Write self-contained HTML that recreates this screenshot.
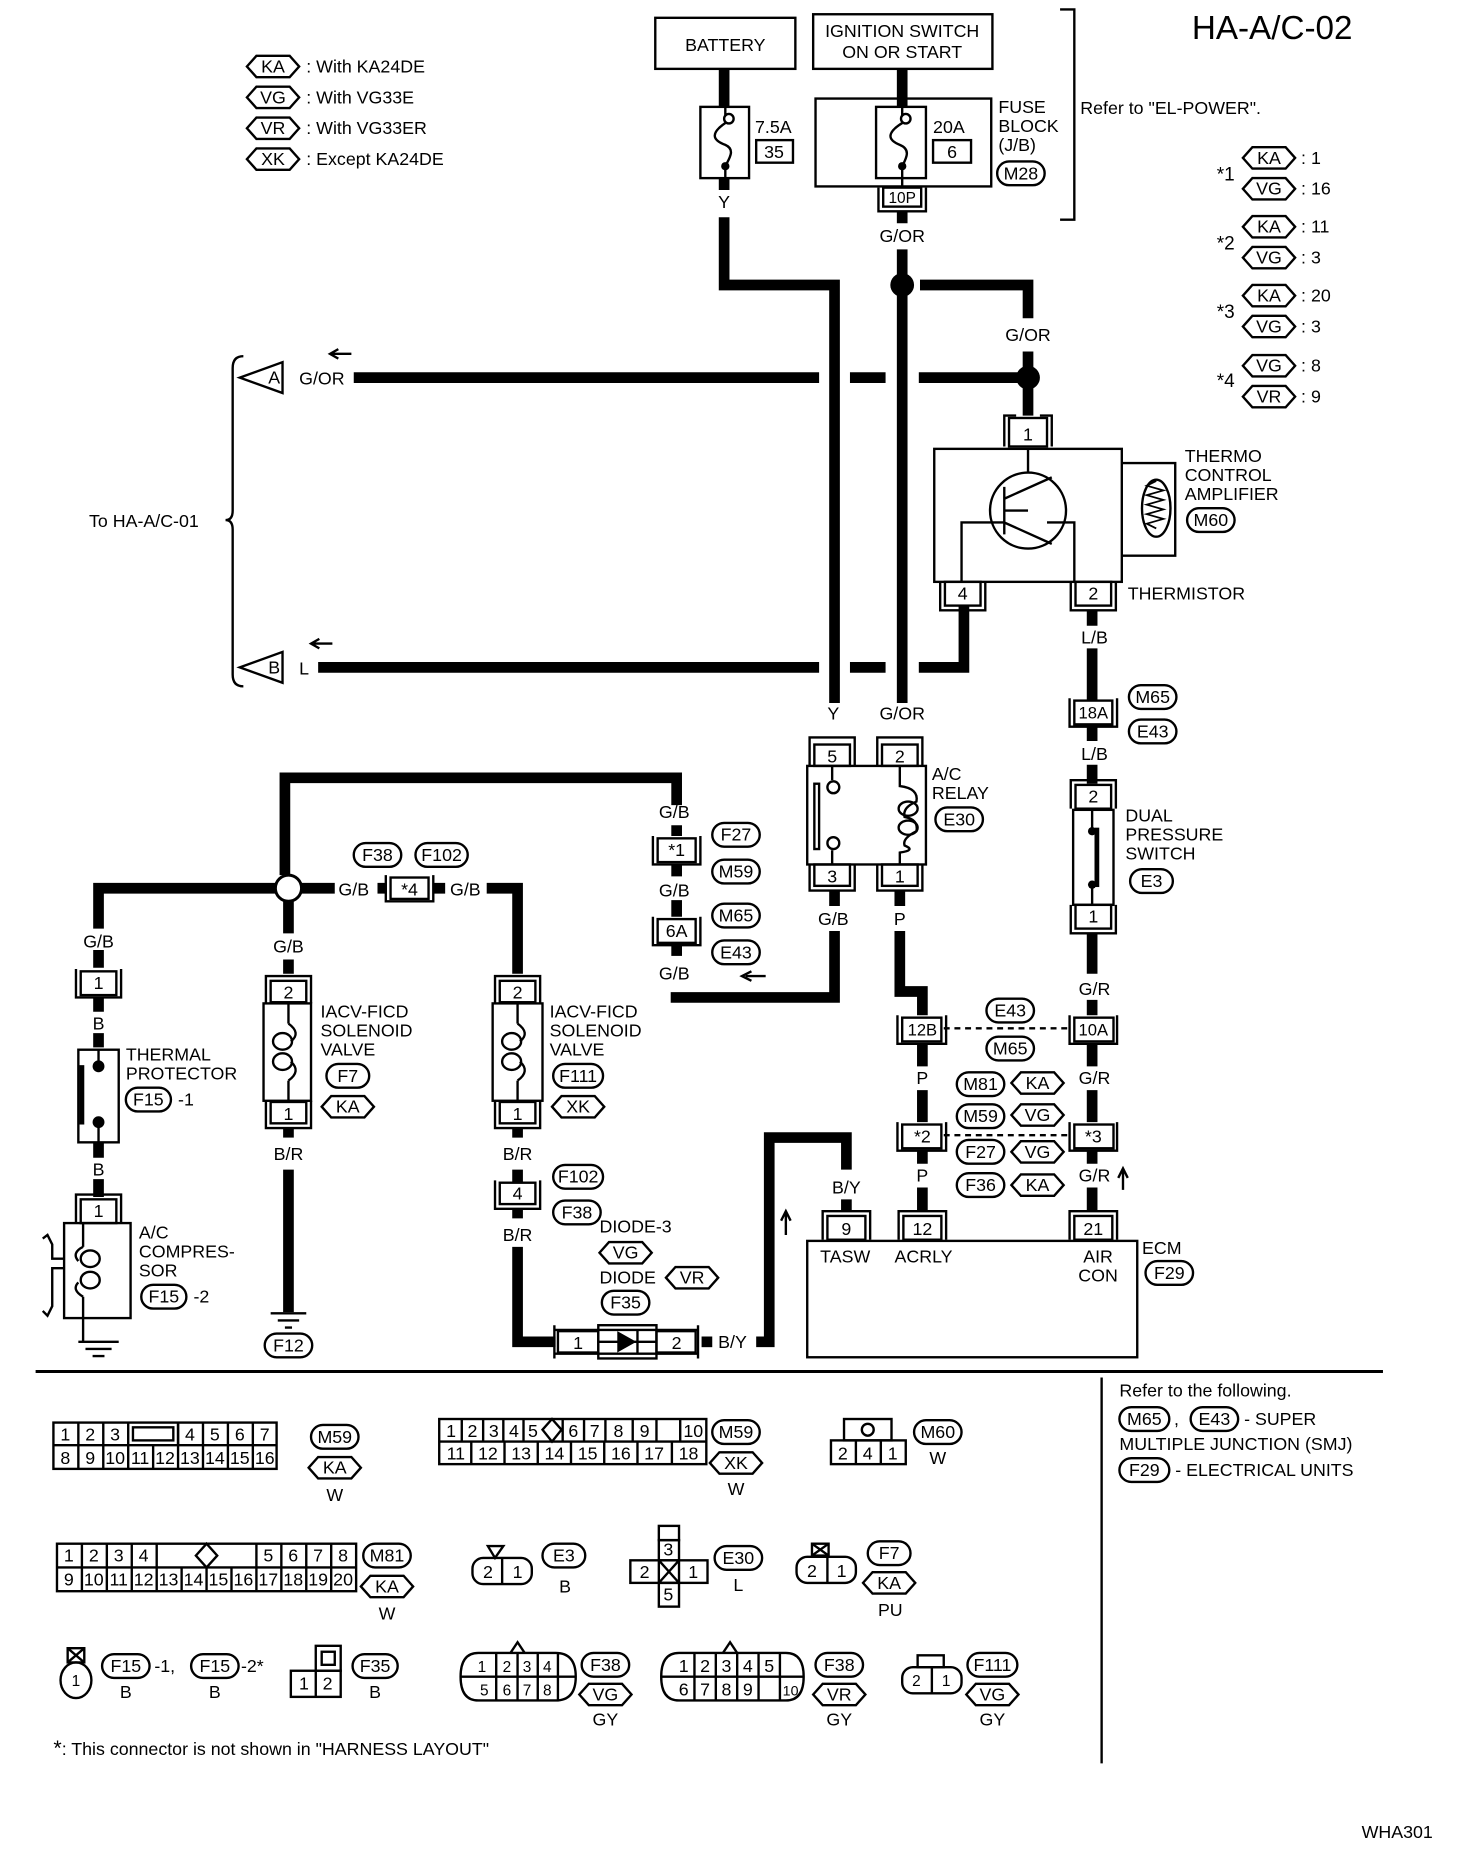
<!DOCTYPE html>
<html><head><meta charset="utf-8"><style>
html,body{margin:0;padding:0;background:#fff;}
svg{display:block;}
text{font-family:"Liberation Sans",sans-serif;font-size:15px;fill:#000;}
.c{text-anchor:middle;}
.s{fill:none;stroke:#000;stroke-width:2;}
.w{fill:#fff;stroke:#000;stroke-width:2;}
.wire{fill:none;stroke:#000;stroke-width:9;}
.th{fill:none;stroke:#000;stroke-width:1.5;}
</style></head><body>
<svg width="1472" height="1856" viewBox="0 0 1240 1563" preserveAspectRatio="none" xmlns="http://www.w3.org/2000/svg">
<rect width="1240" height="1563" fill="#fff"/>
<text x="1004" y="33" style="font-size:28px">HA-A/C-02</text>

<!-- legend -->
<g>
<polygon class="w" points="208,56 216,47 244,47 252,56 244,65 216,65"/><text x="230" y="61" class="c">KA</text><text x="258" y="61">: With KA24DE</text>
<polygon class="w" points="208,82 216,73 244,73 252,82 244,91 216,91"/><text x="230" y="87" class="c">VG</text><text x="258" y="87">: With VG33E</text>
<polygon class="w" points="208,108 216,99 244,99 252,108 244,117 216,117"/><text x="230" y="113" class="c">VR</text><text x="258" y="113">: With VG33ER</text>
<polygon class="w" points="208,134 216,125 244,125 252,134 244,143 216,143"/><text x="230" y="139" class="c">XK</text><text x="258" y="139">: Except KA24DE</text>
</g>

<!-- right star tables -->
<g>
<text x="1025" y="152" style="font-size:16px">*1</text>
<polygon class="w" points="1047,133 1055,124 1083,124 1091,133 1083,142 1055,142"/><text x="1069" y="138" class="c">KA</text><text x="1096" y="138">: 1</text>
<polygon class="w" points="1047,159 1055,150 1083,150 1091,159 1083,168 1055,168"/><text x="1069" y="164" class="c">VG</text><text x="1096" y="164">: 16</text>
<text x="1025" y="210" style="font-size:16px">*2</text>
<polygon class="w" points="1047,191 1055,182 1083,182 1091,191 1083,200 1055,200"/><text x="1069" y="196" class="c">KA</text><text x="1096" y="196">: 11</text>
<polygon class="w" points="1047,217 1055,208 1083,208 1091,217 1083,226 1055,226"/><text x="1069" y="222" class="c">VG</text><text x="1096" y="222">: 3</text>
<text x="1025" y="268" style="font-size:16px">*3</text>
<polygon class="w" points="1047,249 1055,240 1083,240 1091,249 1083,258 1055,258"/><text x="1069" y="254" class="c">KA</text><text x="1096" y="254">: 20</text>
<polygon class="w" points="1047,275 1055,266 1083,266 1091,275 1083,284 1055,284"/><text x="1069" y="280" class="c">VG</text><text x="1096" y="280">: 3</text>
<text x="1025" y="326" style="font-size:16px">*4</text>
<polygon class="w" points="1047,308 1055,299 1083,299 1091,308 1083,317 1055,317"/><text x="1069" y="313" class="c">VG</text><text x="1096" y="313">: 8</text>
<polygon class="w" points="1047,334 1055,325 1083,325 1091,334 1083,343 1055,343"/><text x="1069" y="339" class="c">VR</text><text x="1096" y="339">: 9</text>
</g>

<!-- top boxes -->
<rect class="s" x="552" y="15" width="118" height="43"/><text x="611" y="43" class="c">BATTERY</text>
<rect class="s" x="685" y="12" width="151" height="46"/><text x="760" y="31" class="c">IGNITION SWITCH</text><text x="760" y="49" class="c">ON OR START</text>
<path class="s" d="M893,8 H905 V185 H893"/>
<text x="910" y="96">Refer to "EL-POWER".</text>

<!-- fuses -->
<path class="wire" d="M610,58 V90"/>
<rect class="s" x="590" y="90" width="41" height="60"/>
<path class="s" d="M611,90 V97 M611,140 V150"/>
<circle cx="614" cy="100" r="4" class="w"/><circle cx="611" cy="140" r="3.5"/>
<path class="s" d="M612,103 C598,112 600,118 611,122 C620,126 614,134 611,140"/>
<path class="wire" d="M610,150 V160"/>
<text x="636" y="112">7.5A</text><rect class="s" x="637" y="118" width="31" height="19"/><text x="652" y="133" class="c">35</text>
<path class="wire" d="M760,58 V90"/>
<rect class="s" x="687" y="83" width="148" height="74"/>
<rect class="s" x="738" y="90" width="42" height="60"/>
<path class="s" d="M760,90 V97 M760,140 V157"/>
<circle cx="763" cy="100" r="4" class="w"/><circle cx="760" cy="140" r="3.5"/>
<path class="s" d="M761,103 C746,112 748,118 758,122 C768,126 763,134 760,140"/>
<text x="786" y="112">20A</text><rect class="s" x="786" y="118" width="32" height="19"/><text x="802" y="133" class="c">6</text>
<text x="841" y="95">FUSE</text><text x="841" y="111">BLOCK</text><text x="841" y="127">(J/B)</text>
<rect class="w" x="840" y="136" width="40" height="20" rx="10"/><text x="860" y="151" class="c">M28</text>
<rect class="s" x="744" y="158" width="32" height="16"/><path class="s" d="M740,158 V178 H780 V158"/><text x="760" y="171" class="c" style="font-size:13px">10P</text>
<text x="610" y="175" class="c">Y</text>
<text x="760" y="204" class="c">G/OR</text>

<!-- main wires -->
<path class="wire" d="M610,183 V240 H703 V592"/>
<path class="wire" d="M760,178 V188 M760,210 V592"/>
<circle cx="760" cy="240" r="10"/>
<path class="wire" d="M775,240 H866 V268"/>
<text x="866" y="287" class="c">G/OR</text>
<path class="wire" d="M866,296 V350"/>
<circle cx="866" cy="318" r="10"/>
<path class="wire" d="M298,318 H690 M716,318 H746 M774,318 H866"/>
<path class="wire" d="M268,562 H690 M716,562 H746 M774,562 H812 V510"/>
<!-- connectors A B -->
<polygon class="w" points="202,318 238,305 238,331"/><text x="231" y="323" class="c">A</text><text x="252" y="324">G/OR</text>
<path class="s" d="M296,298 H280 M285,294 L278,298 L285,302"/>
<polygon class="w" points="202,562 238,549 238,575"/><text x="231" y="567" class="c">B</text><text x="252" y="568">L</text>
<path class="s" d="M280,542 H264 M269,538 L262,542 L269,546"/>
<path class="s" d="M205,300 Q196,300 196,310 V430 Q196,438 190,438 Q196,438 196,446 V568 Q196,578 205,578"/>
<text x="75" y="444">To HA-A/C-01</text>

<!-- thermo amp -->
<rect class="s" x="850" y="352" width="32" height="24"/><path class="s" d="M846,376 V350 H856 M876,350 H886 V376"/><text x="866" y="371" class="c">1</text>
<rect class="s" x="787" y="378" width="158" height="112"/>
<circle cx="866" cy="430" r="32" class="s"/>
<path class="s" d="M866,378 V398 M846,410 V450 M846,420 L886,402 M846,440 L886,458"/>
<path class="s" d="M810,490 V440 H846 M846,430 H866 M882,440 H905 V490"/>
<path class="s" d="M945,390 H990 V468 H945"/>
<ellipse cx="974" cy="428" rx="12" ry="24" class="s"/>
<path class="th" d="M974,405 l-8,4 l14,4 l-14,4 l14,4 l-14,4 l14,4 l-14,4 l14,4 l-14,4 l8,4"/>
<text x="998" y="389">THERMO</text><text x="998" y="405">CONTROL</text><text x="998" y="421">AMPLIFIER</text>
<rect class="w" x="1000" y="428" width="40" height="20" rx="10"/><text x="1020" y="443" class="c">M60</text>
<rect class="s" x="796" y="490" width="30" height="20"/><path class="s" d="M792,490 V514 H830 V490"/><text x="811" y="505" class="c">4</text>
<rect class="s" x="906" y="490" width="30" height="20"/><path class="s" d="M902,490 V514 H940 V490"/><text x="921" y="505" class="c">2</text>
<text x="950" y="505">THERMISTOR</text>
<text x="812" y="542" class="c">L</text>

<!-- L/B path -->
<path class="wire" d="M920,514 V527 M920,546 V590 M920,610 V624 M920,644 V660"/>
<text x="922" y="542" class="c">L/B</text>
<rect class="s" x="905" y="590" width="32" height="20"/><path class="s" d="M901,588 V612 H941 V588"/><text x="921" y="605" class="c" style="font-size:14px">18A</text>
<rect class="w" x="951" y="577" width="40" height="20" rx="10"/><text x="971" y="592" class="c">M65</text>
<rect class="w" x="951" y="606" width="40" height="20" rx="10"/><text x="971" y="621" class="c">E43</text>
<text x="922" y="640" class="c">L/B</text>
<!-- dual pressure -->
<rect class="s" x="906" y="661" width="30" height="20"/><path class="s" d="M902,681 V657 H940 V681"/><text x="921" y="676" class="c">2</text>
<rect class="s" x="904" y="682" width="34" height="80"/>
<path class="s" d="M920,682 V700 M920,745 V762"/><circle cx="920" cy="700" r="3.5"/><circle cx="920" cy="745" r="3.5"/>
<rect x="922" y="697" width="4" height="50"/>
<text x="948" y="692">DUAL</text><text x="948" y="708">PRESSURE</text><text x="948" y="724">SWITCH</text>
<rect class="w" x="952" y="732" width="36" height="20" rx="10"/><text x="970" y="747" class="c">E3</text>
<rect class="s" x="906" y="762" width="30" height="20"/><path class="s" d="M902,762 V786 H940 V762"/><text x="921" y="777" class="c">1</text>
<path class="wire" d="M920,786 V820 M920,842 V855"/>
<text x="922" y="838" class="c">G/R</text>
<rect class="s" x="905" y="857" width="33" height="20"/><path class="s" d="M901,855 V879 H941 V855"/><text x="921" y="872" class="c" style="font-size:14px">10A</text>
<path class="wire" d="M920,879 V898 M920,918 V945"/>
<text x="922" y="913" class="c">G/R</text>
<rect class="s" x="905" y="947" width="33" height="20"/><path class="s" d="M901,945 V969 H941 V945"/><text x="921" y="962" class="c">*3</text>
<path class="wire" d="M920,969 V980 M920,1000 V1020"/>
<text x="922" y="995" class="c">G/R</text>
<path class="s" d="M946,1002 V986 M942,992 L946,984 L950,992"/>
<path d="M795,866 H903" stroke="#000" stroke-width="2" stroke-dasharray="5,4" fill="none"/>
<path d="M795,956 H903" stroke="#000" stroke-width="2" stroke-dasharray="5,4" fill="none"/>
<rect class="w" x="831" y="841" width="40" height="20" rx="10"/><text x="851" y="856" class="c">E43</text>
<rect class="w" x="831" y="873" width="40" height="20" rx="10"/><text x="851" y="888" class="c">M65</text>

<!-- A/C relay -->
<text x="702" y="606" class="c">Y</text><text x="760" y="606" class="c">G/OR</text>
<rect class="s" x="686" y="627" width="30" height="18"/><path class="s" d="M682,645 V621 H720 V645"/><text x="701" y="642" class="c">5</text>
<rect class="s" x="743" y="627" width="30" height="18"/><path class="s" d="M739,645 V621 H777 V645"/><text x="758" y="642" class="c">2</text>
<rect class="s" x="680" y="645" width="100" height="83"/>
<rect class="s" x="686" y="660" width="4" height="55"/>
<path class="s" d="M701,645 V657 M701,716 V728"/><circle cx="702" cy="663" r="5" class="w"/><circle cx="702" cy="710" r="5" class="w"/>
<path class="s" d="M758,645 V662 Q774,664 772,675 Q760,680 762,688 Q774,690 772,700 Q760,706 762,712 Q772,716 758,718 V728"/>
<ellipse cx="765" cy="681" rx="8" ry="6" class="s"/><ellipse cx="765" cy="697" rx="8" ry="6" class="s"/>
<text x="785" y="657">A/C</text><text x="785" y="673">RELAY</text>
<rect class="w" x="788" y="680" width="40" height="20" rx="10"/><text x="808" y="695" class="c">E30</text>
<rect class="s" x="686" y="728" width="30" height="18"/><path class="s" d="M682,728 V750 H720 V728"/><text x="701" y="743" class="c">3</text>
<rect class="s" x="743" y="728" width="30" height="18"/><path class="s" d="M739,728 V750 H777 V728"/><text x="758" y="743" class="c">1</text>
<text x="702" y="779" class="c">G/B</text><text x="758" y="779" class="c">P</text>
<path class="wire" d="M703,750 V763 M703,784 V840 H565"/>
<path class="s" d="M645,822 H628 M633,818 L625,822 L633,826"/>
<text x="568" y="825" class="c">G/B</text>
<path class="wire" d="M758,750 V763 M758,784 V835 H777 V855"/>
<rect class="s" x="760" y="857" width="33" height="20"/><path class="s" d="M756,855 V879 H797 V855"/><text x="777" y="872" class="c" style="font-size:14px">12B</text>
<path class="wire" d="M777,879 V898 M777,918 V945"/>
<text x="777" y="913" class="c">P</text>
<rect class="s" x="760" y="947" width="33" height="20"/><path class="s" d="M756,945 V969 H797 V945"/><text x="777" y="962" class="c">*2</text>
<path class="wire" d="M777,969 V980 M777,1000 V1020"/>
<text x="777" y="995" class="c">P</text>
<rect class="w" x="806" y="903" width="40" height="20" rx="10"/><text x="826" y="918" class="c">M81</text>
<polygon class="w" points="852,912 860,903 888,903 896,912 888,921 860,921"/><text x="874" y="917" class="c">KA</text>
<rect class="w" x="806" y="930" width="40" height="20" rx="10"/><text x="826" y="945" class="c">M59</text>
<polygon class="w" points="852,939 860,930 888,930 896,939 888,948 860,948"/><text x="874" y="944" class="c">VG</text>
<rect class="w" x="806" y="960" width="40" height="20" rx="10"/><text x="826" y="975" class="c">F27</text>
<polygon class="w" points="852,970 860,961 888,961 896,970 888,979 860,979"/><text x="874" y="975" class="c">VG</text>
<rect class="w" x="806" y="988" width="40" height="20" rx="10"/><text x="826" y="1003" class="c">F36</text>
<polygon class="w" points="852,998 860,989 888,989 896,998 888,1007 860,1007"/><text x="874" y="1003" class="c">KA</text>

<!-- ECM -->
<rect class="s" x="680" y="1045" width="278" height="98"/>
<rect class="s" x="697" y="1024" width="32" height="20"/><path class="s" d="M693,1044 V1020 H733 V1044"/><text x="713" y="1040" class="c">9</text>
<rect class="s" x="761" y="1024" width="32" height="20"/><path class="s" d="M757,1044 V1020 H797 V1044"/><text x="777" y="1040" class="c">12</text>
<rect class="s" x="905" y="1024" width="32" height="20"/><path class="s" d="M901,1044 V1020 H941 V1044"/><text x="921" y="1040" class="c">21</text>
<text x="712" y="1063" class="c">TASW</text><text x="778" y="1063" class="c">ACRLY</text>
<text x="925" y="1063" class="c">AIR</text><text x="925" y="1079" class="c">CON</text>
<text x="962" y="1056">ECM</text>
<rect class="w" x="965" y="1062" width="40" height="20" rx="10"/><text x="985" y="1077" class="c">F29</text>
<text x="713" y="1005" class="c">B/Y</text>
<path class="wire" d="M713,1020 V1010 M713,985 V958 H648 V1130 H637"/>
<path class="s" d="M662,1040 V1022 M658,1028 L662,1020 L666,1028"/>
<text x="605" y="1135">B/Y</text>

<!-- G/B left wiring -->
<path class="wire" d="M570,678 V655 H240 V737 M243,759 V786 M243,808 V820"/>
<circle cx="243" cy="748" r="11" class="w" style="stroke-width:2.5"/>
<path class="wire" d="M232,748 H83 V782 M83,800 V815"/>
<path class="wire" d="M254,748 H282 M318,748 H325 M365,748 H375 M410,748 H436 V820"/>
<text x="298" y="754" class="c">G/B</text><text x="392" y="754" class="c">G/B</text>
<rect class="s" x="329" y="739" width="32" height="18"/><path class="s" d="M325,737 V759 H365 V737"/><text x="345" y="754" class="c">*4</text>
<rect class="w" x="298" y="710" width="40" height="20" rx="10"/><text x="318" y="725" class="c">F38</text>
<rect class="w" x="350" y="710" width="44" height="20" rx="10"/><text x="372" y="725" class="c">F102</text>
<text x="568" y="689" class="c">G/B</text>
<rect class="s" x="554" y="706" width="32" height="20"/><path class="s" d="M550,704 V728 H590 V704"/><text x="570" y="721" class="c">*1</text>
<path class="wire" d="M570,695 V704 M570,728 V738 M570,758 V772"/>
<text x="568" y="755" class="c">G/B</text>
<rect class="s" x="554" y="774" width="32" height="20"/><path class="s" d="M550,772 V796 H590 V772"/><text x="570" y="789" class="c">6A</text>
<path class="wire" d="M570,796 V805"/>
<rect class="w" x="600" y="693" width="40" height="20" rx="10"/><text x="620" y="708" class="c">F27</text>
<rect class="w" x="600" y="724" width="40" height="20" rx="10"/><text x="620" y="739" class="c">M59</text>
<rect class="w" x="600" y="761" width="40" height="20" rx="10"/><text x="620" y="776" class="c">M65</text>
<rect class="w" x="600" y="792" width="40" height="20" rx="10"/><text x="620" y="807" class="c">E43</text>

<!-- thermal protector -->
<text x="83" y="798" class="c">G/B</text>
<rect class="s" x="68" y="818" width="30" height="20"/><path class="s" d="M64,816 V840 H102 V816"/><text x="83" y="833" class="c">1</text>
<path class="wire" d="M83,840 V852 M83,870 V882"/>
<text x="83" y="867" class="c">B</text>
<rect class="s" x="66" y="884" width="34" height="78"/>
<rect x="67" y="897" width="4" height="50"/>
<circle cx="83" cy="898" r="5"/><circle cx="83" cy="945" r="5"/>
<path class="s" d="M83,884 V898 M83,945 V962"/>
<path class="wire" d="M83,962 V975 M83,993 V1008"/>
<text x="83" y="990" class="c">B</text>
<text x="106" y="893">THERMAL</text><text x="106" y="909">PROTECTOR</text>
<rect class="w" x="106" y="916" width="38" height="20" rx="10"/><text x="125" y="931" class="c">F15</text><text x="150" y="931">-1</text>
<rect class="s" x="68" y="1010" width="30" height="20"/><path class="s" d="M64,1030 V1006 H102 V1030"/><text x="83" y="1025" class="c">1</text>
<rect class="s" x="54" y="1030" width="56" height="80"/>
<path class="s" d="M70,1030 V1050 M70,1092 V1130"/>
<ellipse cx="76" cy="1060" rx="8" ry="7" class="s"/><ellipse cx="76" cy="1078" rx="8" ry="7" class="s"/>
<path class="s" d="M70,1050 Q60,1055 66,1062 M70,1092 Q60,1086 66,1080"/>
<path class="s" d="M36,1043 L40,1040 L44,1048 V1060 H54 M54,1068 H44 V1100 L40,1108 L36,1104"/>
<path class="s" d="M66,1130 H100 M72,1136 H94 M78,1142 H88"/>
<text x="117" y="1043">A/C</text><text x="117" y="1059">COMPRES-</text><text x="117" y="1075">SOR</text>
<rect class="w" x="119" y="1082" width="38" height="20" rx="10"/><text x="138" y="1097" class="c">F15</text><text x="163" y="1097">-2</text>

<!-- IACV 1 -->
<text x="243" y="802" class="c">G/B</text>
<rect class="s" x="228" y="826" width="30" height="18"/><path class="s" d="M224,845 V822 H262 V845"/><text x="243" y="841" class="c">2</text>
<rect class="s" x="222" y="845" width="40" height="82"/>
<path class="s" d="M243,845 V862 M243,910 V927"/>
<ellipse cx="238" cy="877" rx="8" ry="7" class="s"/><ellipse cx="238" cy="894" rx="8" ry="7" class="s"/>
<path class="s" d="M243,862 Q254,870 245,877 M243,910 Q254,902 245,894"/>
<rect class="s" x="228" y="928" width="30" height="18"/><path class="s" d="M224,927 V950 H262 V927"/><text x="243" y="943" class="c">1</text>
<text x="270" y="857">IACV-FICD</text><text x="270" y="873">SOLENOID</text><text x="270" y="889">VALVE</text>
<rect class="w" x="275" y="896" width="36" height="20" rx="10"/><text x="293" y="911" class="c">F7</text>
<polygon class="w" points="271,932 279,923 307,923 315,932 307,941 279,941"/><text x="293" y="937" class="c">KA</text>
<path class="wire" d="M243,950 V958"/><text x="243" y="977" class="c">B/R</text>
<path class="wire" d="M243,985 V1105"/>
<path class="s" d="M228,1106 H258 M234,1112 H252 M240,1118 H246"/>
<rect class="w" x="223" y="1123" width="40" height="20" rx="10"/><text x="243" y="1138" class="c">F12</text>

<!-- IACV 2 -->
<rect class="s" x="421" y="826" width="30" height="18"/><path class="s" d="M417,845 V822 H455 V845"/><text x="436" y="841" class="c">2</text>
<rect class="s" x="415" y="845" width="42" height="82"/>
<path class="s" d="M436,845 V862 M436,910 V927"/>
<ellipse cx="431" cy="877" rx="8" ry="7" class="s"/><ellipse cx="431" cy="894" rx="8" ry="7" class="s"/>
<path class="s" d="M436,862 Q447,870 438,877 M436,910 Q447,902 438,894"/>
<rect class="s" x="421" y="928" width="30" height="18"/><path class="s" d="M417,927 V950 H455 V927"/><text x="436" y="943" class="c">1</text>
<text x="463" y="857">IACV-FICD</text><text x="463" y="873">SOLENOID</text><text x="463" y="889">VALVE</text>
<rect class="w" x="466" y="896" width="42" height="20" rx="10"/><text x="487" y="911" class="c">F111</text>
<polygon class="w" points="465,932 473,923 501,923 509,932 501,941 473,941"/><text x="487" y="937" class="c">XK</text>
<path class="wire" d="M436,950 V958 M436,985 V996"/><text x="436" y="977" class="c">B/R</text>
<rect class="s" x="421" y="996" width="30" height="18"/><path class="s" d="M417,994 V1018 H455 V994"/><text x="436" y="1010" class="c">4</text>
<path class="wire" d="M436,1018 V1026 M436,1050 V1130 H468"/><text x="436" y="1045" class="c">B/R</text>
<rect class="w" x="466" y="981" width="42" height="20" rx="10"/><text x="487" y="996" class="c">F102</text>
<rect class="w" x="466" y="1011" width="40" height="20" rx="10"/><text x="486" y="1026" class="c">F38</text>
<text x="505" y="1038">DIODE-3</text>
<polygon class="w" points="505,1055 513,1046 541,1046 549,1055 541,1064 513,1064"/><text x="527" y="1060" class="c">VG</text>
<text x="505" y="1081">DIODE</text>
<polygon class="w" points="561,1076 569,1067 597,1067 605,1076 597,1085 569,1085"/><text x="583" y="1081" class="c">VR</text>
<rect class="w" x="507" y="1087" width="40" height="20" rx="10"/><text x="527" y="1102" class="c">F35</text>
<path class="s" d="M467,1120 H588 V1140 H467 Z M467,1116 V1144 M588,1116 V1144"/>
<rect class="s" x="470" y="1121" width="34" height="18"/><text x="487" y="1136" class="c">1</text>
<rect class="s" x="553" y="1121" width="33" height="18"/><text x="570" y="1136" class="c">2</text>
<rect class="s" x="504" y="1116" width="49" height="28"/>
<path class="s" d="M504,1130 H553"/><polygon points="520,1121 520,1139 536,1130"/><path class="s" d="M537,1120 V1140"/>
<path class="wire" d="M591,1130 H600"/>

<!-- separators -->
<path d="M30,1155 H1165" stroke="#000" stroke-width="2.5"/>
<path d="M928,1160 V1485" stroke="#000" stroke-width="2"/>
<text x="943" y="1176">Refer to the following.</text>
<rect class="w" x="943" y="1185" width="42" height="20" rx="10"/><text x="964" y="1200" class="c">M65</text>
<text x="989" y="1200">,</text>
<rect class="w" x="1003" y="1185" width="40" height="20" rx="10"/><text x="1023" y="1200" class="c">E43</text>
<text x="1048" y="1200">- SUPER</text>
<text x="943" y="1221">MULTIPLE JUNCTION (SMJ)</text>
<rect class="w" x="943" y="1228" width="42" height="20" rx="10"/><text x="964" y="1243" class="c">F29</text>
<text x="990" y="1243">- ELECTRICAL UNITS</text>

<!-- bottom connectors -->
<g style="font-size:13px">
<rect class="s" x="45" y="1198" width="188" height="39"/><path class="s" d="M45,1217 H233 M66,1198 V1237 M87,1198 V1237 M108,1217 V1237 M129,1217 V1237 M150,1198 V1237 M171,1198 V1237 M192,1198 V1237 M213,1198 V1237"/>
<path class="s" d="M108,1198 V1217 M150,1198 V1217"/><rect class="s" x="112" y="1202" width="34" height="11"/>
<text x="55" y="1213" class="c">1</text><text x="76" y="1213" class="c">2</text><text x="97" y="1213" class="c">3</text><text x="160" y="1213" class="c">4</text><text x="181" y="1213" class="c">5</text><text x="202" y="1213" class="c">6</text><text x="223" y="1213" class="c">7</text>
<text x="55" y="1233" class="c">8</text><text x="76" y="1233" class="c">9</text><text x="97" y="1233" class="c">10</text><text x="118" y="1233" class="c">11</text><text x="139" y="1233" class="c">12</text><text x="160" y="1233" class="c">13</text><text x="181" y="1233" class="c">14</text><text x="202" y="1233" class="c">15</text><text x="223" y="1233" class="c">16</text>
</g>
<rect class="w" x="262" y="1200" width="40" height="20" rx="10"/><text x="282" y="1215" class="c">M59</text>
<polygon class="w" points="260,1236 268,1227 296,1227 304,1236 296,1245 268,1245"/><text x="282" y="1241" class="c">KA</text>
<text x="282" y="1264" class="c">W</text>

<g style="font-size:13px">
<rect class="s" x="370" y="1195" width="225" height="38"/><path class="s" d="M370,1214 H595"/>
<path class="s" d="M389,1195 V1214 M407,1195 V1214 M424,1195 V1214 M441,1195 V1214 M474,1195 V1214 M492,1195 V1214 M510,1195 V1214 M533,1195 V1214 M553,1195 V1214 M573,1195 V1214"/>
<polygon class="s" points="465,1195 473,1204 465,1214 457,1204"/>
<path class="s" d="M397,1214 V1233 M425,1214 V1233 M453,1214 V1233 M481,1214 V1233 M509,1214 V1233 M537,1214 V1233 M566,1214 V1233"/>
<text x="380" y="1210" class="c">1</text><text x="398" y="1210" class="c">2</text><text x="416" y="1210" class="c">3</text><text x="433" y="1210" class="c">4</text><text x="449" y="1210" class="c">5</text><text x="483" y="1210" class="c">6</text><text x="501" y="1210" class="c">7</text><text x="521" y="1210" class="c">8</text><text x="543" y="1210" class="c">9</text><text x="584" y="1210" class="c">10</text>
<text x="384" y="1229" class="c">11</text><text x="411" y="1229" class="c">12</text><text x="439" y="1229" class="c">13</text><text x="467" y="1229" class="c">14</text><text x="495" y="1229" class="c">15</text><text x="523" y="1229" class="c">16</text><text x="551" y="1229" class="c">17</text><text x="580" y="1229" class="c">18</text>
</g>
<rect class="w" x="600" y="1196" width="40" height="20" rx="10"/><text x="620" y="1211" class="c">M59</text>
<polygon class="w" points="598,1232 606,1223 634,1223 642,1232 634,1241 606,1241"/><text x="620" y="1237" class="c">XK</text>
<text x="620" y="1259" class="c">W</text>

<rect class="s" x="711" y="1195" width="40" height="18"/><circle cx="731" cy="1204" r="5" class="s"/>
<rect class="s" x="700" y="1213" width="63" height="20"/><path class="s" d="M721,1213 V1233 M742,1213 V1233"/>
<text x="710" y="1229" class="c">2</text><text x="731" y="1229" class="c">4</text><text x="752" y="1229" class="c">1</text>
<rect class="w" x="770" y="1196" width="40" height="20" rx="10"/><text x="790" y="1211" class="c">M60</text>
<text x="790" y="1233" class="c">W</text>

<g style="font-size:13px">
<rect class="s" x="48" y="1300" width="252" height="40"/><path class="s" d="M48,1320 H300"/>
<path class="s" d="M69,1300 V1340 M90,1300 V1340 M111,1300 V1340 M132,1300 V1340 M216,1300 V1340 M237,1300 V1340 M258,1300 V1340 M279,1300 V1340 M153,1320 V1340 M174,1320 V1340 M195,1320 V1340"/>
<polygon class="s" points="174,1300 183,1310 174,1320 165,1310"/>
<text x="58" y="1315" class="c">1</text><text x="79" y="1315" class="c">2</text><text x="100" y="1315" class="c">3</text><text x="121" y="1315" class="c">4</text><text x="226" y="1315" class="c">5</text><text x="247" y="1315" class="c">6</text><text x="268" y="1315" class="c">7</text><text x="289" y="1315" class="c">8</text>
<text x="58" y="1335" class="c">9</text><text x="79" y="1335" class="c">10</text><text x="100" y="1335" class="c">11</text><text x="121" y="1335" class="c">12</text><text x="142" y="1335" class="c">13</text><text x="163" y="1335" class="c">14</text><text x="184" y="1335" class="c">15</text><text x="205" y="1335" class="c">16</text><text x="226" y="1335" class="c">17</text><text x="247" y="1335" class="c">18</text><text x="268" y="1335" class="c">19</text><text x="289" y="1335" class="c">20</text>
</g>
<rect class="w" x="306" y="1300" width="40" height="20" rx="10"/><text x="326" y="1315" class="c">M81</text>
<polygon class="w" points="304,1336 312,1327 340,1327 348,1336 340,1345 312,1345"/><text x="326" y="1341" class="c">KA</text>
<text x="326" y="1364" class="c">W</text>

<!-- E3 -->
<path class="s" d="M411,1302 H424 L417,1312 Z"/>
<rect class="s" x="398" y="1312" width="50" height="22" rx="9"/><path class="s" d="M423,1312 V1334"/>
<text x="411" y="1329" class="c">2</text><text x="436" y="1329" class="c">1</text>
<rect class="w" x="457" y="1300" width="36" height="20" rx="10"/><text x="475" y="1315" class="c">E3</text>
<text x="476" y="1341" class="c">B</text>
<!-- E30 -->
<rect class="s" x="555" y="1285" width="17" height="12"/>
<rect class="s" x="555" y="1297" width="17" height="17"/><text x="563" y="1310" class="c">3</text>
<rect class="s" x="531" y="1314" width="65" height="19"/><path class="s" d="M555,1314 V1333 M572,1314 V1333 M555,1314 L572,1333 M572,1314 L555,1333"/>
<text x="543" y="1329" class="c">2</text><text x="584" y="1329" class="c">1</text>
<rect class="s" x="555" y="1333" width="17" height="20"/><text x="563" y="1348" class="c">5</text>
<rect class="w" x="602" y="1302" width="40" height="20" rx="10"/><text x="622" y="1317" class="c">E30</text>
<text x="622" y="1340" class="c">L</text>
<!-- F7 -->
<rect class="s" x="684" y="1300" width="14" height="10"/><path class="s" d="M684,1300 L698,1310 M698,1300 L684,1310"/>
<rect class="s" x="671" y="1311" width="50" height="22" rx="9"/><path class="s" d="M697,1311 V1333"/>
<text x="684" y="1328" class="c">2</text><text x="709" y="1328" class="c">1</text>
<rect class="w" x="731" y="1298" width="36" height="20" rx="10"/><text x="749" y="1313" class="c">F7</text>
<polygon class="w" points="727,1333 735,1324 763,1324 771,1333 763,1342 735,1342"/><text x="749" y="1338" class="c">KA</text>
<text x="750" y="1361" class="c">PU</text>

<!-- F15 -->
<rect class="s" x="57" y="1388" width="14" height="12"/><path class="s" d="M57,1388 L71,1400 M71,1388 L57,1400"/>
<ellipse cx="64" cy="1415" rx="13" ry="15" class="s"/><text x="64" y="1420" class="c" style="font-size:13px">1</text>
<rect class="w" x="86" y="1393" width="40" height="20" rx="10"/><text x="106" y="1408" class="c">F15</text>
<text x="130" y="1408">-1,</text>
<rect class="w" x="161" y="1393" width="40" height="20" rx="10"/><text x="181" y="1408" class="c">F15</text>
<text x="203" y="1408">-2*</text>
<text x="106" y="1430" class="c">B</text><text x="181" y="1430" class="c">B</text>
<!-- F35 -->
<rect class="s" x="266" y="1386" width="21" height="21"/><rect class="s" x="271" y="1391" width="11" height="11"/>
<rect class="s" x="245" y="1407" width="42" height="22"/><path class="s" d="M266,1407 V1429"/>
<text x="256" y="1423" class="c">1</text><text x="276" y="1423" class="c">2</text>
<rect class="w" x="297" y="1393" width="38" height="20" rx="10"/><text x="316" y="1408" class="c">F35</text>
<text x="316" y="1430" class="c">B</text>
<!-- F38 VG -->
<path class="s" d="M430,1392 L436,1383 L442,1392"/>
<path class="s" d="M403,1392 H468 Q485,1392 485,1412 Q485,1432 468,1432 H403 Q388,1432 388,1412 Q388,1392 403,1392 Z M388,1412 H485 M418,1392 V1432 M436,1392 V1432 M453,1392 V1432 M470,1392 V1432"/>
<text x="406" y="1408" class="c" style="font-size:13px">1</text><text x="427" y="1408" class="c" style="font-size:13px">2</text><text x="444" y="1408" class="c" style="font-size:13px">3</text><text x="461" y="1408" class="c" style="font-size:13px">4</text>
<text x="408" y="1428" class="c" style="font-size:13px">5</text><text x="427" y="1428" class="c" style="font-size:13px">6</text><text x="444" y="1428" class="c" style="font-size:13px">7</text><text x="461" y="1428" class="c" style="font-size:13px">8</text>
<rect class="w" x="490" y="1392" width="40" height="20" rx="10"/><text x="510" y="1407" class="c">F38</text>
<polygon class="w" points="488,1427 496,1418 524,1418 532,1427 524,1436 496,1436"/><text x="510" y="1432" class="c">VG</text>
<text x="510" y="1453" class="c">GY</text>
<!-- F38 VR -->
<path class="s" d="M609,1392 L615,1383 L621,1392"/>
<path class="s" d="M572,1392 H662 Q677,1392 677,1412 Q677,1432 662,1432 H572 Q557,1432 557,1412 Q557,1392 572,1392 Z M557,1412 H677 M585,1392 V1432 M603,1392 V1432 M621,1392 V1432 M639,1392 V1432 M657,1392 V1432"/>
<g style="font-size:13px"><text x="576" y="1408" class="c">1</text><text x="594" y="1408" class="c">2</text><text x="612" y="1408" class="c">3</text><text x="630" y="1408" class="c">4</text><text x="648" y="1408" class="c">5</text>
<text x="576" y="1428" class="c">6</text><text x="594" y="1428" class="c">7</text><text x="612" y="1428" class="c">8</text><text x="630" y="1428" class="c">9</text><text x="666" y="1428" class="c" style="font-size:12px">10</text></g>
<rect class="w" x="687" y="1392" width="40" height="20" rx="10"/><text x="707" y="1407" class="c">F38</text>
<polygon class="w" points="685,1427 693,1418 721,1418 729,1427 721,1436 693,1436"/><text x="707" y="1432" class="c">VR</text>
<text x="707" y="1453" class="c">GY</text>
<!-- F111 -->
<rect class="s" x="773" y="1394" width="22" height="10"/>
<rect class="s" x="760" y="1404" width="50" height="22" rx="9"/><path class="s" d="M785,1404 V1426"/>
<text x="772" y="1420" class="c" style="font-size:13px">2</text><text x="797" y="1420" class="c" style="font-size:13px">1</text>
<rect class="w" x="815" y="1392" width="42" height="20" rx="10"/><text x="836" y="1407" class="c">F111</text>
<polygon class="w" points="814,1427 822,1418 850,1418 858,1427 850,1436 822,1436"/><text x="836" y="1432" class="c">VG</text>
<text x="836" y="1453" class="c">GY</text>

<text x="45" y="1478"><tspan style="font-size:18px">*</tspan>: This connector is not shown in "HARNESS LAYOUT"</text>
<text x="1147" y="1548">WHA301</text>
</svg>
</body></html>
